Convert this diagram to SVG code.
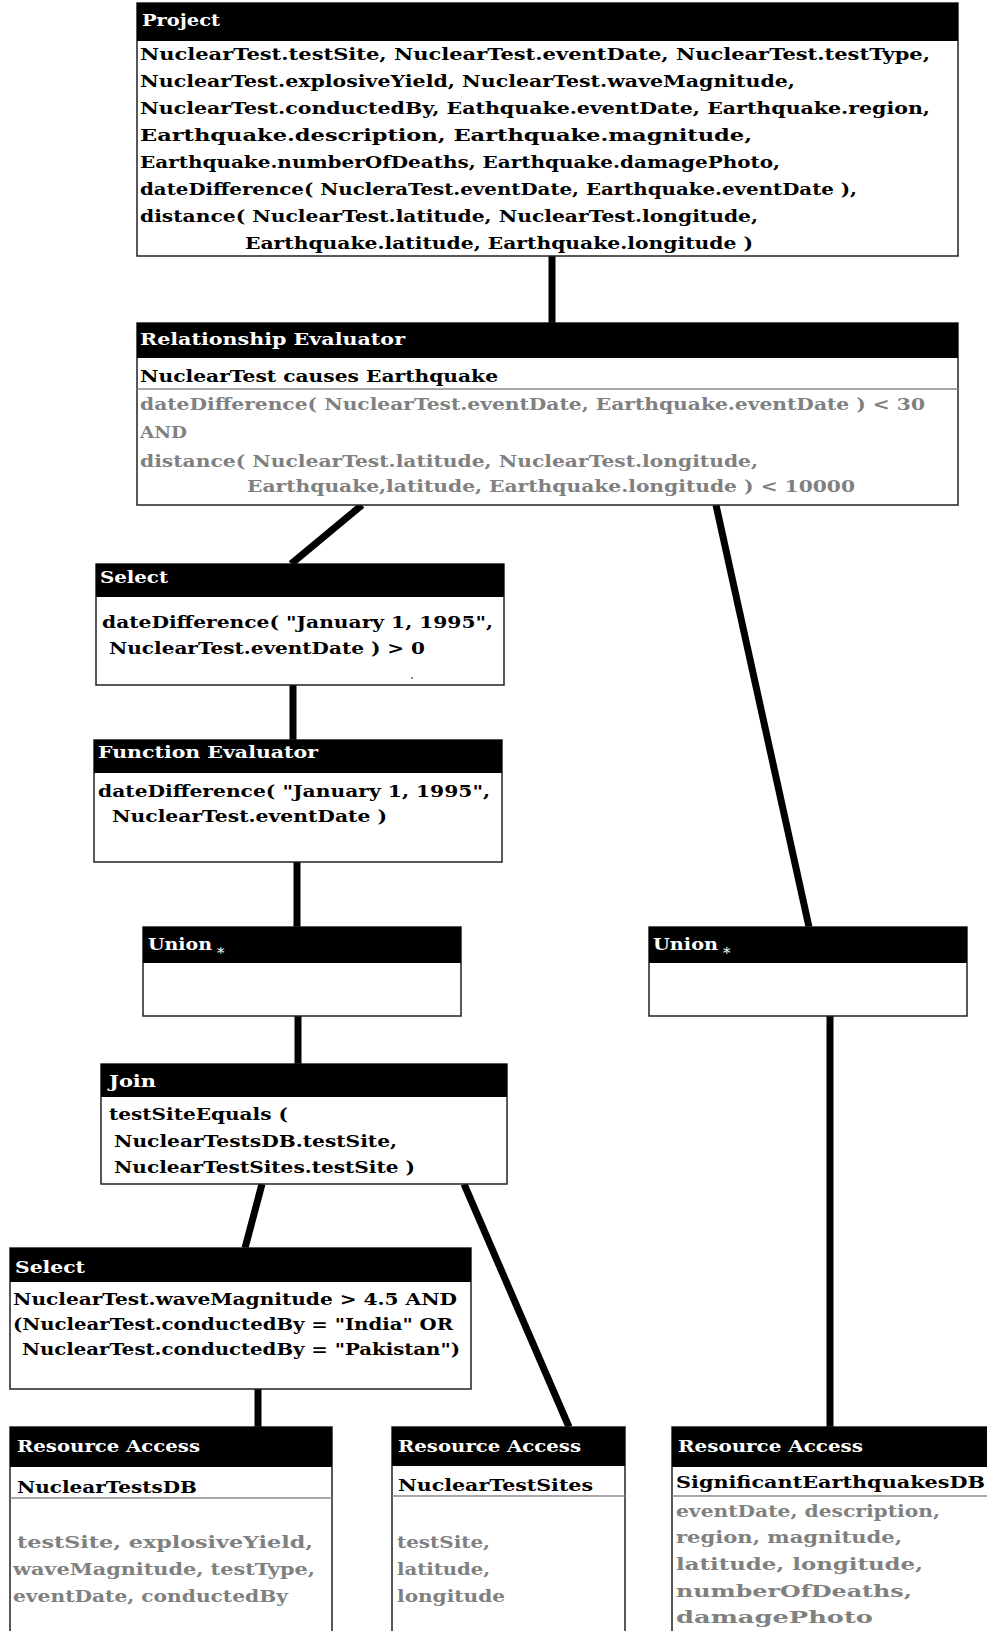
<svg xmlns="http://www.w3.org/2000/svg" width="987" height="1631" viewBox="0 0 987 1631">
  <style>
    text { font-family: "DejaVu Serif", "Liberation Serif", serif; font-weight: bold; font-size: 16px; }
    .box { fill: #ffffff; stroke: #222222; stroke-width: 1.5; }
    .hdr { fill: #000000; }
    .ht { fill: #ffffff; }
    .bt { fill: #000000; }
    .gt { fill: #808080; }
    .sep { stroke: #8a8a8a; stroke-width: 1.5; }
    .star { fill: #ffffff; font-size: 15px; font-weight: normal; }
    .link { stroke: #000000; stroke-width: 7; fill: none; }
  </style>

  <!-- connectors -->
  <g id="connectors">
    <line class="link" x1="552" y1="256" x2="552" y2="323"/>
    <line class="link" x1="362" y1="505" x2="291" y2="564"/>
    <line class="link" x1="716" y1="505" x2="809" y2="927"/>
    <line class="link" x1="293" y1="685" x2="293" y2="740"/>
    <line class="link" x1="297" y1="862" x2="297" y2="927"/>
    <line class="link" x1="298" y1="1016" x2="298" y2="1064"/>
    <line class="link" x1="262" y1="1184" x2="245" y2="1248"/>
    <line class="link" x1="464" y1="1184" x2="569" y2="1427"/>
    <line class="link" x1="258" y1="1389" x2="258" y2="1427"/>
    <line class="link" x1="830" y1="1016" x2="830" y2="1427"/>
  </g>

  <!-- Project -->
  <g id="project">
    <rect class="box" x="137" y="3" width="821" height="253"/>
    <rect class="hdr" x="137" y="3" width="821" height="38"/>
    <text class="ht" x="142" y="26" textLength="78" lengthAdjust="spacingAndGlyphs">Project</text>
    <text class="bt" x="140" y="60" textLength="790" lengthAdjust="spacingAndGlyphs">NuclearTest.testSite, NuclearTest.eventDate, NuclearTest.testType,</text>
    <text class="bt" x="140" y="87" textLength="655" lengthAdjust="spacingAndGlyphs">NuclearTest.explosiveYield, NuclearTest.waveMagnitude,</text>
    <text class="bt" x="140" y="114" textLength="790" lengthAdjust="spacingAndGlyphs">NuclearTest.conductedBy, Eathquake.eventDate, Earthquake.region,</text>
    <text class="bt" x="140" y="141" textLength="612" lengthAdjust="spacingAndGlyphs">Earthquake.description, Earthquake.magnitude,</text>
    <text class="bt" x="140" y="168" textLength="640" lengthAdjust="spacingAndGlyphs">Earthquake.numberOfDeaths, Earthquake.damagePhoto,</text>
    <text class="bt" x="140" y="195" textLength="717" lengthAdjust="spacingAndGlyphs">dateDifference( NucleraTest.eventDate, Earthquake.eventDate ),</text>
    <text class="bt" x="140" y="222" textLength="618" lengthAdjust="spacingAndGlyphs">distance( NuclearTest.latitude, NuclearTest.longitude,</text>
    <text class="bt" x="245" y="249" textLength="508" lengthAdjust="spacingAndGlyphs">Earthquake.latitude, Earthquake.longitude )</text>
  </g>

  <!-- Relationship Evaluator -->
  <g id="relationship-evaluator">
    <rect class="box" x="137" y="323" width="821" height="182"/>
    <rect class="hdr" x="137" y="323" width="821" height="35"/>
    <text class="ht" x="140" y="345" textLength="265" lengthAdjust="spacingAndGlyphs">Relationship Evaluator</text>
    <text class="bt" x="140" y="382" textLength="358" lengthAdjust="spacingAndGlyphs">NuclearTest causes Earthquake</text>
    <line class="sep" x1="137" y1="389" x2="958" y2="389"/>
    <text class="gt" x="140" y="410" textLength="785" lengthAdjust="spacingAndGlyphs">dateDifference( NuclearTest.eventDate, Earthquake.eventDate ) &lt; 30</text>
    <text class="gt" x="140" y="438" textLength="47" lengthAdjust="spacingAndGlyphs">AND</text>
    <text class="gt" x="140" y="467" textLength="618" lengthAdjust="spacingAndGlyphs">distance( NuclearTest.latitude, NuclearTest.longitude,</text>
    <text class="gt" x="247" y="492" textLength="608" lengthAdjust="spacingAndGlyphs">Earthquake,latitude, Earthquake.longitude ) &lt; 10000</text>
  </g>

  <!-- Select (date filter) -->
  <g id="select-date">
    <rect class="box" x="96" y="564" width="408" height="121"/>
    <rect class="hdr" x="96" y="564" width="408" height="33"/>
    <text class="ht" x="100" y="583" textLength="68" lengthAdjust="spacingAndGlyphs">Select</text>
    <text class="bt" x="102" y="628" textLength="391" lengthAdjust="spacingAndGlyphs">dateDifference( "January 1, 1995",</text>
    <text class="bt" x="109" y="654" textLength="316" lengthAdjust="spacingAndGlyphs">NuclearTest.eventDate ) &gt; 0</text>
    <circle cx="412" cy="678" r="1" fill="#666666"/>
  </g>

  <!-- Function Evaluator -->
  <g id="function-evaluator">
    <rect class="box" x="94" y="740" width="408" height="122"/>
    <rect class="hdr" x="94" y="740" width="408" height="33"/>
    <text class="ht" x="98" y="758" textLength="220" lengthAdjust="spacingAndGlyphs">Function Evaluator</text>
    <text class="bt" x="98" y="797" textLength="392" lengthAdjust="spacingAndGlyphs">dateDifference( "January 1, 1995",</text>
    <text class="bt" x="112" y="822" textLength="275" lengthAdjust="spacingAndGlyphs">NuclearTest.eventDate )</text>
  </g>

  <!-- Union (left) -->
  <g id="union-left">
    <rect class="box" x="143" y="927" width="318" height="89"/>
    <rect class="hdr" x="143" y="927" width="318" height="36"/>
    <text class="ht" x="148" y="950" textLength="64" lengthAdjust="spacingAndGlyphs">Union</text>
    <text class="star" x="217" y="958">*</text>
  </g>

  <!-- Union (right) -->
  <g id="union-right">
    <rect class="box" x="649" y="927" width="318" height="89"/>
    <rect class="hdr" x="649" y="927" width="318" height="36"/>
    <text class="ht" x="653" y="950" textLength="65" lengthAdjust="spacingAndGlyphs">Union</text>
    <text class="star" x="723" y="958">*</text>
  </g>

  <!-- Join -->
  <g id="join">
    <rect class="box" x="101" y="1064" width="406" height="120"/>
    <rect class="hdr" x="101" y="1064" width="406" height="33"/>
    <text class="ht" x="109" y="1087" textLength="47" lengthAdjust="spacingAndGlyphs">Join</text>
    <text class="bt" x="109" y="1120" textLength="179" lengthAdjust="spacingAndGlyphs">testSiteEquals (</text>
    <text class="bt" x="114" y="1147" textLength="283" lengthAdjust="spacingAndGlyphs">NuclearTestsDB.testSite,</text>
    <text class="bt" x="114" y="1173" textLength="301" lengthAdjust="spacingAndGlyphs">NuclearTestSites.testSite )</text>
  </g>

  <!-- Select (tests filter) -->
  <g id="select-tests">
    <rect class="box" x="10" y="1248" width="461" height="141"/>
    <rect class="hdr" x="10" y="1248" width="461" height="34"/>
    <text class="ht" x="15" y="1273" textLength="70" lengthAdjust="spacingAndGlyphs">Select</text>
    <text class="bt" x="13" y="1305" textLength="444" lengthAdjust="spacingAndGlyphs">NuclearTest.waveMagnitude &gt; 4.5 AND</text>
    <text class="bt" x="13" y="1330" textLength="440" lengthAdjust="spacingAndGlyphs">(NuclearTest.conductedBy = "India" OR</text>
    <text class="bt" x="22" y="1355" textLength="438" lengthAdjust="spacingAndGlyphs">NuclearTest.conductedBy = "Pakistan")</text>
  </g>

  <!-- Resource Access: NuclearTestsDB -->
  <g id="resource-tests">
    <rect class="box" x="10" y="1427" width="322" height="220"/>
    <rect class="hdr" x="10" y="1427" width="322" height="40"/>
    <text class="ht" x="17" y="1452" textLength="183" lengthAdjust="spacingAndGlyphs">Resource Access</text>
    <text class="bt" x="17" y="1493" textLength="180" lengthAdjust="spacingAndGlyphs">NuclearTestsDB</text>
    <line class="sep" x1="10" y1="1498" x2="332" y2="1498"/>
    <text class="gt" x="17" y="1548" textLength="296" lengthAdjust="spacingAndGlyphs">testSite, explosiveYield,</text>
    <text class="gt" x="13" y="1575" textLength="302" lengthAdjust="spacingAndGlyphs">waveMagnitude, testType,</text>
    <text class="gt" x="13" y="1602" textLength="275" lengthAdjust="spacingAndGlyphs">eventDate, conductedBy</text>
  </g>

  <!-- Resource Access: NuclearTestSites -->
  <g id="resource-sites">
    <rect class="box" x="392" y="1427" width="233" height="220"/>
    <rect class="hdr" x="392" y="1427" width="233" height="39"/>
    <text class="ht" x="398" y="1452" textLength="183" lengthAdjust="spacingAndGlyphs">Resource Access</text>
    <text class="bt" x="398" y="1491" textLength="195" lengthAdjust="spacingAndGlyphs">NuclearTestSites</text>
    <line class="sep" x1="392" y1="1496" x2="625" y2="1496"/>
    <text class="gt" x="397" y="1548" textLength="93" lengthAdjust="spacingAndGlyphs">testSite,</text>
    <text class="gt" x="397" y="1575" textLength="93" lengthAdjust="spacingAndGlyphs">latitude,</text>
    <text class="gt" x="397" y="1602" textLength="108" lengthAdjust="spacingAndGlyphs">longitude</text>
  </g>

  <!-- Resource Access: SignificantEarthquakesDB -->
  <g id="resource-quakes">
    <rect class="box" x="672" y="1427" width="330" height="220"/>
    <rect class="hdr" x="672" y="1427" width="330" height="40"/>
    <text class="ht" x="678" y="1452" textLength="185" lengthAdjust="spacingAndGlyphs">Resource Access</text>
    <text class="bt" x="676" y="1488" textLength="309" lengthAdjust="spacingAndGlyphs">SignificantEarthquakesDB</text>
    <line class="sep" x1="672" y1="1496" x2="990" y2="1496"/>
    <text class="gt" x="676" y="1517" textLength="264" lengthAdjust="spacingAndGlyphs">eventDate, description,</text>
    <text class="gt" x="676" y="1543" textLength="226" lengthAdjust="spacingAndGlyphs">region, magnitude,</text>
    <text class="gt" x="676" y="1570" textLength="247" lengthAdjust="spacingAndGlyphs">latitude, longitude,</text>
    <text class="gt" x="676" y="1597" textLength="236" lengthAdjust="spacingAndGlyphs">numberOfDeaths,</text>
    <text class="gt" x="676" y="1623" textLength="197" lengthAdjust="spacingAndGlyphs">damagePhoto</text>
  </g>
</svg>
